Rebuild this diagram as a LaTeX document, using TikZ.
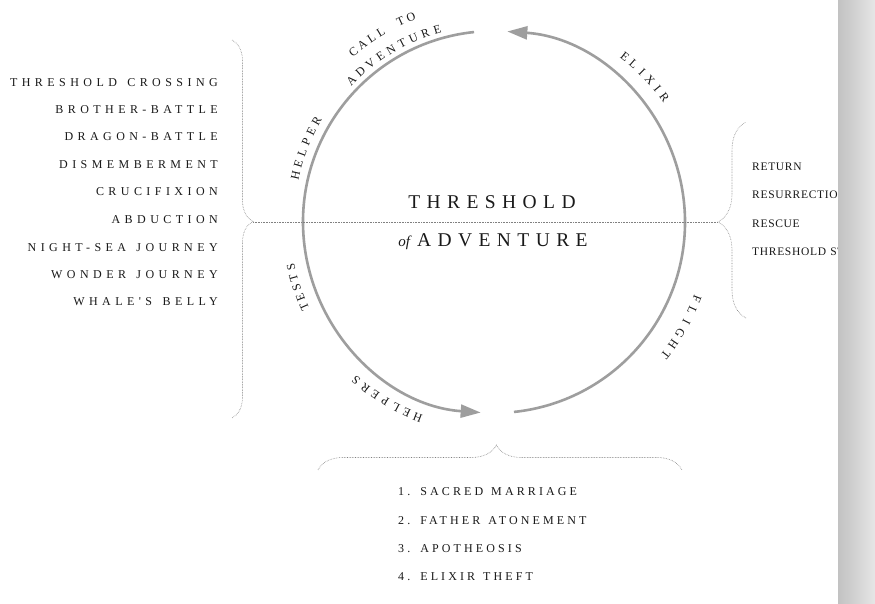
\documentclass[tikz,border=0pt]{standalone}
\usepackage{fontspec}
\usetikzlibrary{arrows.meta,decorations.pathreplacing,calc}
\definecolor{ink}{gray}{0.1}
\definecolor{ring}{gray}{0.62}
\definecolor{dotline}{gray}{0.5}
\setmainfont{Liberation Serif}
\newfontfamily\fleft{Liberation Serif}[LetterSpace=37, WordSpace=1.4]
\newfontfamily\fright{Liberation Serif}[LetterSpace=6, WordSpace=1.2]
\newfontfamily\fbottom{Liberation Serif}[LetterSpace=26, WordSpace=1.3]
\newfontfamily\ftitle{Liberation Serif}[LetterSpace=33]
\newcommand\arcfont{\fontsize{12}{14}\selectfont}
\newcommand\arclabel[6]{%
  \foreach \ch [count=\i] in {#6} {%
    \pgfmathsetmacro\ang{#2+((#5+1)/2-\i)*#4}%
    \node[arclet, rotate=\ang-90] (#1\i) at ($(C)+(\ang:#3)$) {\ch};
  }}
\begin{document}
\begin{tikzpicture}[x=1pt,y=1pt,
  ringline/.style={draw=ring, line width=2.6pt, -{Triangle[length=20pt,width=13pt,fill=ring]}},
  bracestyle/.style={draw=dotline, densely dotted, line width=0.6pt, decorate},
  hline/.style={draw=dotline, densely dotted, line width=0.6pt},
  itemL/.style={anchor=base east, inner sep=0pt, font=\fleft\fontsize{12}{14}\selectfont, text=ink},
  itemR/.style={anchor=base west, inner sep=0pt, font=\fright\fontsize{11.5}{14}\selectfont, text=ink},
  itemB/.style={anchor=base west, inner sep=0pt, font=\fbottom\fontsize{12}{14}\selectfont, text=ink},
  arclet/.style={anchor=base, inner sep=0pt, font=\arcfont, text=ink},
  title/.style={anchor=base, inner sep=0pt, font=\ftitle\fontsize{19.5}{22}\selectfont, text=ink}]
\useasboundingbox (0,0) rectangle (875,603);
\fill[white] (0,0) rectangle (875,603);
\coordinate (C) at (494,381);

% circle arcs
\coordinate (topL) at ($(C)+(96:191)$);
\coordinate (botR) at ($(C)+(-84:191)$);
\draw[ringline] (topL) arc[start angle=96, end angle=266, radius=191];
\draw[ringline] (botR) arc[start angle=-84, end angle=86, radius=191];

% braces
\coordinate (LBtop) at (232,563);
\coordinate (LBbot) at (232,185);
\coordinate (LBtip) at (253,381);
\draw[bracestyle, decoration={brace, amplitude=21pt, aspect=0.48}] (LBtop) -- (LBbot);
\coordinate (RBbot) at (746,285);
\coordinate (RBtop) at (746,481);
\coordinate (RBtip) at (718,381);
\draw[bracestyle, decoration={brace, amplitude=28pt, aspect=0.49}] (RBbot) -- (RBtop);
\coordinate (BBl) at (318,133);
\coordinate (BBr) at (682,133);
\draw[bracestyle, decoration={brace, amplitude=25pt, aspect=0.49}] (BBl) -- (BBr);
\draw[hline] (LBtip) -- (RBtip);

% centre title
\node[title] (t1) at (492,394.5) {THRESHOLD};
\node[anchor=base, inner sep=0pt, text=ink] (t2) at (493,356.5)
  {{\fontsize{15}{18}\selectfont\itshape of}\hspace{7pt}{\ftitle\fontsize{19.5}{22}\selectfont ADVENTURE}};

% left list
\node[itemL] (l1) at (218,516) {THRESHOLD CROSSING};
\node[itemL] (l2) at (218,489) {BROTHER-BATTLE};
\node[itemL] (l3) at (218,462) {DRAGON-BATTLE};
\node[itemL] (l4) at (218,434) {DISMEMBERMENT};
\node[itemL] (l5) at (218,407) {CRUCIFIXION};
\node[itemL] (l6) at (218,379) {ABDUCTION};
\node[itemL] (l7) at (218,351) {NIGHT-SEA JOURNEY};
\node[itemL] (l8) at (218,324) {WONDER JOURNEY};
\node[itemL] (l9) at (218,297) {WHALE'S BELLY};

% right list
\node[itemR] (r1) at (752,432) {RETURN};
\node[itemR] (r2) at (752,404) {RESURRECTION};
\node[itemR] (r3) at (752,375.5) {RESCUE};
\node[itemR] (r4) at (752,347) {THRESHOLD ST};

% bottom list
\node[itemB] (b1) at (398,107.5) {1. SACRED MARRIAGE};
\node[itemB] (b2) at (398,79) {2. FATHER ATONEMENT};
\node[itemB] (b3) at (398,50.5) {3. APOTHEOSIS};
\node[itemB] (b4) at (398,22.5) {4. ELIXIR THEFT};

% labels along the circle
\arclabel{cta}{120.8}{217}{2.9}{7}{C,A,L,L,{},T,O}
\arclabel{adv}{120.8}{197}{3.6}{9}{A,D,V,E,N,T,U,R,E}
\arclabel{hlp}{158.6}{200}{3.3}{6}{H,E,L,P,E,R}
\arclabel{elx}{43.9}{207}{3.1}{6}{E,L,I,X,I,R}
\arclabel{flt}{-29.2}{213}{3.4}{6}{F,L,I,G,H,T}
\arclabel{hps}{238.8}{206}{3.3}{7}{H,E,L,P,E,R,S}
\arclabel{tst}{198.4}{204}{2.9}{5}{T,E,S,T,S}

% page gutter
\fill[left color=gray!48, right color=gray!20] (838,0) rectangle (875,603);
\end{tikzpicture}
\end{document}
